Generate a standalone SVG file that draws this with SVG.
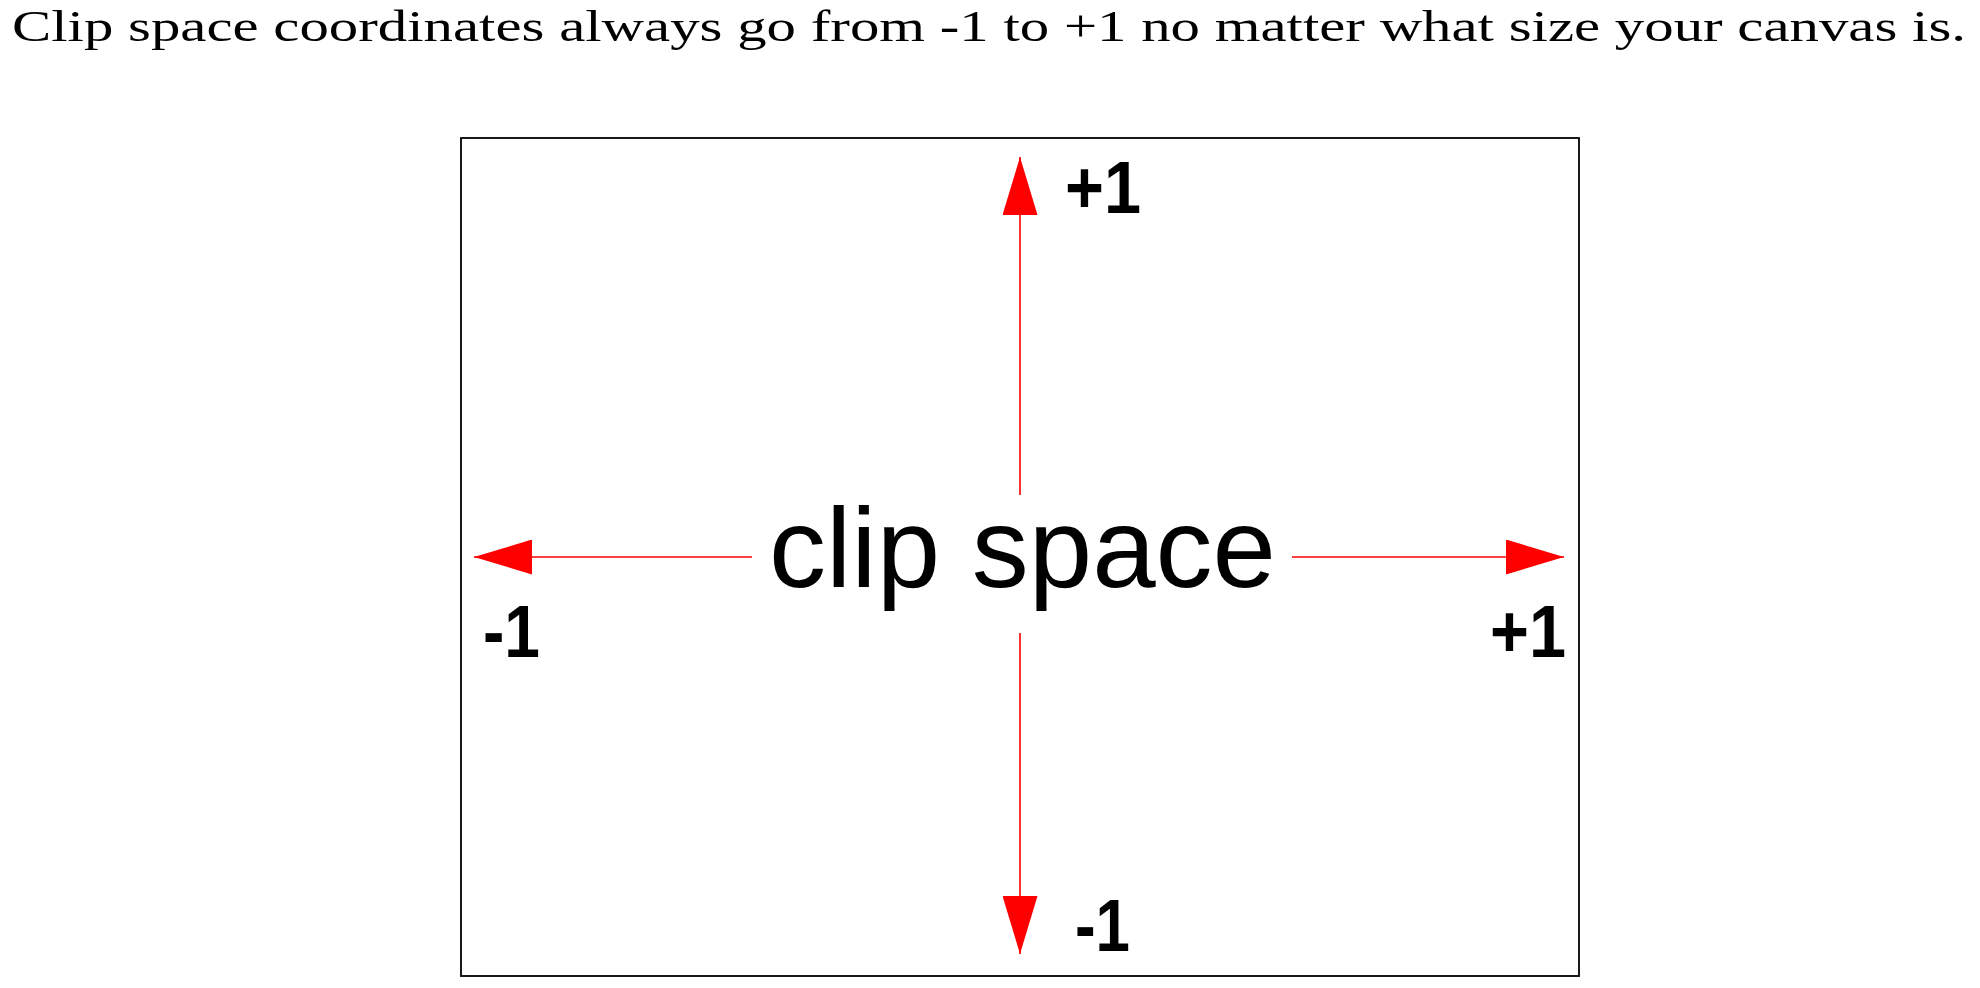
<svg xmlns="http://www.w3.org/2000/svg" width="1980" height="988" viewBox="0 0 1980 988">
  <style>
    .title { font-family: "Liberation Serif", "DejaVu Serif", serif; font-size: 45px; fill: #000; }
    .big { font-family: "Liberation Sans", Arial, sans-serif; font-size: 114px; fill: #000; }
    .lbl { font-family: "Liberation Sans", Arial, sans-serif; font-size: 74px; font-weight: bold; fill: #000; }
    .axis { stroke: #ff0000; stroke-width: 1.6; fill: none; marker-end: url(#arrow); }
  </style>
  <defs>
    <marker id="arrow" markerUnits="userSpaceOnUse" markerWidth="58" markerHeight="35" refX="58" refY="17.5" orient="auto" viewBox="0 0 58 35">
      <path d="M0,0 L58,17.5 L0,35 Z" fill="#ff0000"/>
    </marker>
  </defs>
  <rect width="1980" height="988" fill="#fff"/>
  <text id="title" class="title" x="12" y="41" textLength="1954" lengthAdjust="spacingAndGlyphs">Clip space coordinates always go from -1 to +1 no matter what size your canvas is.</text>
  <g id="frame">
    <rect x="461" y="138" width="1118" height="838" fill="none" stroke="#000" stroke-width="1.8"/>
  </g>
  <g id="connectors">
    <line class="axis" x1="1020" y1="495" x2="1020" y2="157"/>
    <line class="axis" x1="1020" y1="633" x2="1020" y2="954"/>
    <line class="axis" x1="752" y1="557" x2="474" y2="557"/>
    <line class="axis" x1="1292" y1="557" x2="1564" y2="557"/>
  </g>
  <g id="center">
    <text class="big" x="769" y="587">clip space</text>
  </g>
  <g id="label-top"><text class="lbl" x="1065" y="213" textLength="76" lengthAdjust="spacingAndGlyphs">+1</text></g>
  <g id="label-bottom"><text class="lbl" x="1075" y="951" textLength="55" lengthAdjust="spacingAndGlyphs">-1</text></g>
  <g id="label-left"><text class="lbl" x="483" y="657" textLength="57" lengthAdjust="spacingAndGlyphs">-1</text></g>
  <g id="label-right"><text class="lbl" x="1490" y="657" textLength="76" lengthAdjust="spacingAndGlyphs">+1</text></g>
</svg>
